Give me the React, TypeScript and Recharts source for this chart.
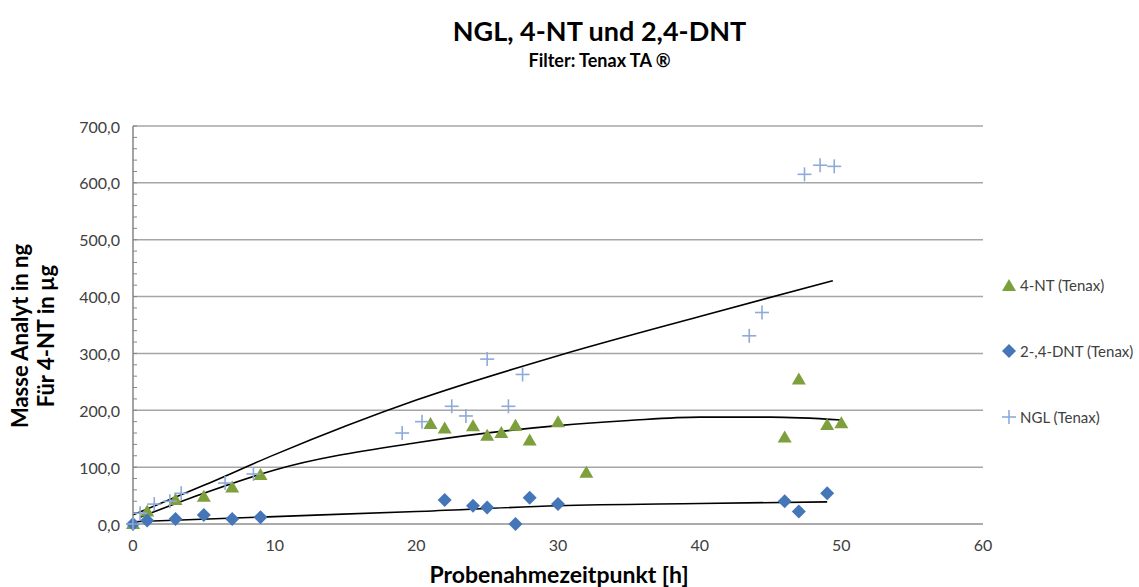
import {
  ComposedChart,
  Scatter,
  Line,
  XAxis,
  YAxis,
  ReferenceLine,
} from 'recharts'

const xTicks = [0, 10, 20, 30, 40, 50, 60]
const yTicks = [0, 100, 200, 300, 400, 500, 600, 700]
const yMinorTicks = [
  0, 20, 40, 60, 80, 100, 120, 140, 160, 180, 200, 220, 240, 260, 280, 300, 320, 340, 360, 380,
  400, 420, 440, 460, 480, 500, 520, 540, 560, 580, 600, 620, 640, 660, 680, 700,
]

const nt4 = [
  { x: 0, y: 0 },
  { x: 1, y: 22 },
  { x: 3, y: 42 },
  { x: 5, y: 48 },
  { x: 7, y: 64 },
  { x: 9, y: 86 },
  { x: 21, y: 176 },
  { x: 22, y: 168 },
  { x: 24, y: 172 },
  { x: 25, y: 155 },
  { x: 26, y: 160 },
  { x: 27, y: 173 },
  { x: 28, y: 147 },
  { x: 30, y: 179 },
  { x: 32, y: 90 },
  { x: 46, y: 152 },
  { x: 47, y: 254 },
  { x: 49, y: 174 },
  { x: 50, y: 177 },
]

const dnt = [
  { x: 0, y: 0 },
  { x: 1, y: 6 },
  { x: 3, y: 9 },
  { x: 5, y: 16 },
  { x: 7, y: 9 },
  { x: 9, y: 12 },
  { x: 22, y: 42 },
  { x: 24, y: 32 },
  { x: 25, y: 29 },
  { x: 27, y: 0 },
  { x: 28, y: 46 },
  { x: 30, y: 35 },
  { x: 46, y: 40 },
  { x: 47, y: 22 },
  { x: 49, y: 54 },
]

const ngl = [
  { x: 0, y: 0 },
  { x: 0.5, y: 19 },
  { x: 1.5, y: 35 },
  { x: 2.6, y: 40 },
  { x: 3.4, y: 54 },
  { x: 6.5, y: 72 },
  { x: 8.5, y: 88 },
  { x: 19, y: 160 },
  { x: 20.4, y: 180 },
  { x: 22.5, y: 207 },
  { x: 23.5, y: 190 },
  { x: 25, y: 290 },
  { x: 26.5, y: 207 },
  { x: 27.5, y: 263 },
  { x: 43.5, y: 331 },
  { x: 44.4, y: 372 },
  { x: 47.4, y: 615 },
  { x: 48.5, y: 631 },
  { x: 49.5, y: 629 },
]

// trend lines
const nglTrend = [
  { x: 0, y: 16 },
  { x: 5, y: 68 },
  { x: 10, y: 122 },
  { x: 20, y: 218 },
  { x: 30, y: 296 },
  { x: 40, y: 365 },
  { x: 49.4, y: 428 },
]
const nt4Trend = [
  { x: 0.5, y: 12 },
  { x: 5, y: 54 },
  { x: 10, y: 95 },
  { x: 20, y: 143 },
  { x: 30, y: 173 },
  { x: 35, y: 182 },
  { x: 40, y: 188 },
  { x: 45, y: 188 },
  { x: 50, y: 183 },
]
const dntTrend = [
  { x: 0, y: 4 },
  { x: 10, y: 13 },
  { x: 20, y: 22 },
  { x: 30, y: 32 },
  { x: 40, y: 36 },
  { x: 49, y: 39 },
]

const GREEN = '#7d9f3c'
const BLUE = '#4577b8'
const LIGHT = '#8eaad8'
const GRID = '#a6a6a6'
const FONT = 'Lato, "Open Sans", sans-serif'

const Triangle = (props: any) => {
  const { cx, cy } = props
  return <polygon points={`${cx},${cy - 7} ${cx - 7},${cy + 5} ${cx + 7},${cy + 5}`} fill={GREEN} />
}
const Diamond = (props: any) => {
  const { cx, cy } = props
  return <polygon points={`${cx},${cy - 7} ${cx + 7},${cy} ${cx},${cy + 7} ${cx - 7},${cy}`} fill={BLUE} />
}
const Cross = (props: any) => {
  const { cx, cy } = props
  return (
    <g stroke={LIGHT} strokeWidth={1.6}>
      <line x1={cx - 7} y1={cy} x2={cx + 7} y2={cy} />
      <line x1={cx} y1={cy - 7} x2={cx} y2={cy + 7} />
    </g>
  )
}

const YTick = (props: any) => {
  const { x, y, payload } = props
  const v = payload.value as number
  return (
    <g>
      <line x1={x + 13} y1={y} x2={x + 17} y2={y} stroke="#868686" strokeWidth={1} />
      {v % 100 === 0 && (
        <text x={x} y={y} textAnchor="end" dominantBaseline="central" fill="#404040" fontSize={16} fontFamily={FONT}>
          {v.toFixed(1).replace('.', ',')}
        </text>
      )}
    </g>
  )
}

const legendItems = [
  { name: '4-NT (Tenax)', marker: 'tri' },
  { name: '2-,4-DNT (Tenax)', marker: 'dia' },
  { name: 'NGL (Tenax)', marker: 'cross' },
]

const LegendBox = () => (
  <div style={{ position: 'absolute', left: 1002, top: 252, fontFamily: FONT, fontSize: 15, color: '#404040', whiteSpace: 'nowrap' }}>
    {legendItems.map((it) => (
      <div key={it.name} style={{ display: 'flex', alignItems: 'center', height: 66 }}>
        <svg width={14} height={14} style={{ marginRight: 4, flexShrink: 0 }}>
          {it.marker === 'tri' && <Triangle cx={7} cy={8} />}
          {it.marker === 'dia' && <Diamond cx={7} cy={7} />}
          {it.marker === 'cross' && <Cross cx={7} cy={7} />}
        </svg>
        <span>{it.name}</span>
      </div>
    ))}
  </div>
)

export default function App() {
  return (
    <div style={{ position: 'absolute', left: 0, top: 0, width: 1139, height: 587, background: '#fff', overflow: 'hidden' }}>
      <div style={{ position: 'absolute', left: 0, width: 1199, top: 14, textAlign: 'center', fontFamily: FONT, fontWeight: 700, fontSize: 27, color: '#000' }}>
        NGL, 4-NT und 2,4-DNT
      </div>
      <div style={{ position: 'absolute', left: 0, width: 1199, top: 49, textAlign: 'center', fontFamily: FONT, fontWeight: 700, fontSize: 18, color: '#000' }}>
        Filter: Tenax TA ®
      </div>
      <div
        style={{
          position: 'absolute', left: 33, top: 336, transform: 'translate(-50%, -50%) rotate(-90deg)',
          fontFamily: FONT, fontWeight: 700, fontSize: 22, color: '#000', whiteSpace: 'nowrap', textAlign: 'center', lineHeight: '26px',
        }}
      >
        Masse Analyt in ng
        <br />
        Für 4-NT in µg
      </div>
      <div style={{ position: 'absolute', left: 0, width: 1118, top: 560, textAlign: 'center', fontFamily: FONT, fontWeight: 700, fontSize: 23, color: '#000' }}>
        Probenahmezeitpunkt [h]
      </div>
      <LegendBox />
      <ComposedChart width={1139} height={587} margin={{ top: 126, right: 156, bottom: 0, left: 0 }}>
        {yTicks.map((t) => (
          <ReferenceLine key={t} y={t} stroke={GRID} strokeWidth={1.5} />
        ))}
        <XAxis
          type="number"
          dataKey="x"
          domain={[0, 60]}
          ticks={xTicks}
          interval={0}
          tickLine={false}
          tickSize={0}
          tickMargin={16}
          axisLine={{ stroke: GRID, strokeWidth: 1.5 }}
          tick={{ fill: '#404040', fontSize: 16, fontFamily: FONT }}
          height={63}
        />
        <YAxis
          type="number"
          dataKey="y"
          domain={[0, 700]}
          ticks={yMinorTicks}
          interval={0}
          tickLine={false}
          tickSize={0}
          tickMargin={13}
          width={133}
          axisLine={{ stroke: '#868686', strokeWidth: 1.5 }}
          tick={<YTick />}
        />
        <Scatter name="4-NT (Tenax)" data={nt4} shape={<Triangle />} isAnimationActive={false} />
        <Scatter name="2-,4-DNT (Tenax)" data={dnt} shape={<Diamond />} isAnimationActive={false} />
        <Scatter name="NGL (Tenax)" data={ngl} shape={<Cross />} isAnimationActive={false} />
        <Line data={nglTrend} dataKey="y" type="monotone" stroke="#000" strokeWidth={1.6} dot={false} isAnimationActive={false} />
        <Line data={nt4Trend} dataKey="y" type="monotone" stroke="#000" strokeWidth={1.6} dot={false} isAnimationActive={false} />
        <Line data={dntTrend} dataKey="y" type="monotone" stroke="#000" strokeWidth={1.6} dot={false} isAnimationActive={false} />
      </ComposedChart>
    </div>
  )
}
